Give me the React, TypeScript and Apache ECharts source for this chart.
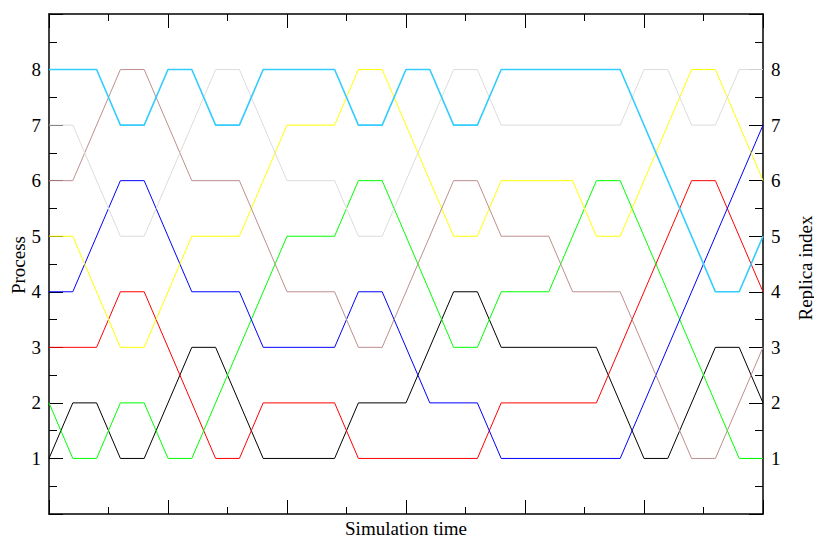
import React, { useEffect, useRef } from "react";
import * as echarts from "echarts";

const blackT = [0, 1, 2, 3, 4, 6, 7, 9, 12, 13, 15, 17, 18, 19, 23, 25, 26, 28, 29, 30];
const blackV = [1, 2, 2, 1, 1, 3, 3, 1, 1, 2, 2, 4, 4, 3, 3, 1, 1, 3, 3, 2];

const redT = [0, 2, 3, 4, 7, 8, 9, 12, 13, 18, 19, 23, 27, 28, 30];
const redV = [3, 3, 4, 4, 1, 1, 2, 2, 1, 1, 2, 2, 6, 6, 4];

const greenT = [0, 1, 2, 3, 4, 5, 6, 10, 12, 13, 14, 17, 18, 19, 21, 23, 24, 29, 30];
const greenV = [2, 1, 1, 2, 2, 1, 1, 5, 5, 6, 6, 3, 3, 4, 4, 6, 6, 1, 1];

const blueT = [0, 1, 3, 4, 6, 8, 9, 12, 13, 14, 16, 18, 19, 24, 30];
const blueV = [4, 4, 6, 6, 4, 4, 3, 3, 4, 4, 2, 2, 1, 1, 7];

const yellowT = [0, 1, 3, 4, 6, 8, 10, 12, 13, 14, 17, 18, 19, 22, 23, 24, 27, 28, 30];
const yellowV = [5, 5, 3, 3, 5, 5, 7, 7, 8, 8, 5, 5, 6, 6, 5, 5, 8, 8, 6];

const brownT = [0, 1, 3, 4, 6, 8, 10, 12, 13, 14, 17, 18, 19, 21, 22, 24, 27, 28, 30];
const brownV = [6, 6, 8, 8, 6, 6, 4, 4, 3, 3, 6, 6, 5, 5, 4, 4, 1, 1, 3];

const grayT = [0, 1, 3, 4, 7, 8, 10, 12, 13, 14, 17, 18, 19, 24, 25, 26, 27, 28, 29, 30];
const grayV = [7, 7, 5, 5, 8, 8, 6, 6, 5, 5, 8, 8, 7, 7, 8, 8, 7, 7, 8, 8];

const cyanT = [0, 2, 3, 4, 5, 6, 7, 8, 9, 12, 13, 14, 15, 16, 17, 18, 19, 24, 28, 29, 30];
const cyanV = [8, 8, 7, 7, 8, 8, 7, 7, 8, 8, 7, 7, 8, 8, 7, 7, 8, 8, 4, 4, 5];

const yTickLabels = ["", "1", "2", "3", "4", "5", "6", "7", "8", ""];

const FONT = "Liberation Serif";

const lines = [
  { name: "black", t: blackT, v: blackV, color: "#000000", w: 1 },
  { name: "red", t: redT, v: redV, color: "#ff0000", w: 1 },
  { name: "green", t: greenT, v: greenV, color: "#00ff00", w: 1 },
  { name: "blue", t: blueT, v: blueV, color: "#0000ff", w: 1 },
  { name: "yellow", t: yellowT, v: yellowV, color: "#ffff00", w: 1 },
  { name: "brown", t: brownT, v: brownV, color: "#bc8f8f", w: 1 },
  { name: "gray", t: grayT, v: grayV, color: "#dcdcdc", w: 1 },
  { name: "cyan", t: cyanT, v: cyanV, color: "#33ccff", w: 1.6 },
];

export default function App() {
  const ref = useRef<HTMLDivElement>(null);
  useEffect(() => {
    if (!ref.current) return;
    const chart = echarts.init(ref.current, null, { renderer: "svg" });
    const axisLine = { show: true, onZero: false, lineStyle: { color: "#000", width: 1.5 } };
    const xAxisBase = {
      type: "value",
      min: 0,
      max: 30,
      interval: 5,
      axisLine,
      axisTick: { show: true, inside: true, length: 14, lineStyle: { color: "#000", width: 1 } },
      minorTick: { show: true, splitNumber: 2, length: 7, lineStyle: { color: "#000", width: 1 } },
      axisLabel: { show: false },
      splitLine: { show: false },
      minorSplitLine: { show: false },
    };
    const yAxisBase = {
      type: "value",
      min: 0,
      max: 9,
      interval: 1,
      axisLine,
      axisTick: { show: true, inside: true, length: 14, lineStyle: { color: "#000", width: 1 } },
      minorTick: { show: true, splitNumber: 2, length: 8, lineStyle: { color: "#000", width: 1 } },
      axisLabel: {
        show: true,
        margin: 8,
        fontFamily: FONT,
        fontSize: 19,
        color: "#000",
        formatter: (val: number) => yTickLabels[Math.round(val)] ?? "",
      },
      splitLine: { show: false },
      minorSplitLine: { show: false },
    };
    chart.setOption({
      animation: false,
      backgroundColor: "#ffffff",
      textStyle: { fontFamily: FONT },
      grid: { left: 49, top: 14, width: 714, height: 500, containLabel: false },
      xAxis: [
        { ...xAxisBase, position: "bottom" },
        { ...xAxisBase, position: "top" },
      ],
      yAxis: [
        { ...yAxisBase, position: "left" },
        { ...yAxisBase, position: "right" },
      ],
      series: lines.map((l) => ({
        type: "line",
        name: l.name,
        data: l.t.map((t, i) => [t, l.v[i]]),
        showSymbol: false,
        symbol: "none",
        silent: true,
        lineStyle: { color: l.color, width: l.w },
        itemStyle: { color: l.color },
      })),
      graphic: [
        {
          type: "text",
          x: 18,
          y: 265,
          rotation: Math.PI / 2,
          style: { text: "Process", font: `19px "${FONT}"`, align: "center", verticalAlign: "middle", fill: "#000" },
        },
        {
          type: "text",
          x: 805,
          y: 268,
          rotation: Math.PI / 2,
          style: { text: "Replica index", font: `19px "${FONT}"`, align: "center", verticalAlign: "middle", fill: "#000" },
        },
        {
          type: "text",
          x: 406,
          y: 528,
          style: { text: "Simulation time", font: `19px "${FONT}"`, align: "center", verticalAlign: "middle", fill: "#000" },
        },
      ],
    });
    return () => chart.dispose();
  }, []);
  return (
    <div
      ref={ref}
      style={{ position: "absolute", left: 0, top: 0, width: 814, height: 537, background: "#fff" }}
    />
  );
}
